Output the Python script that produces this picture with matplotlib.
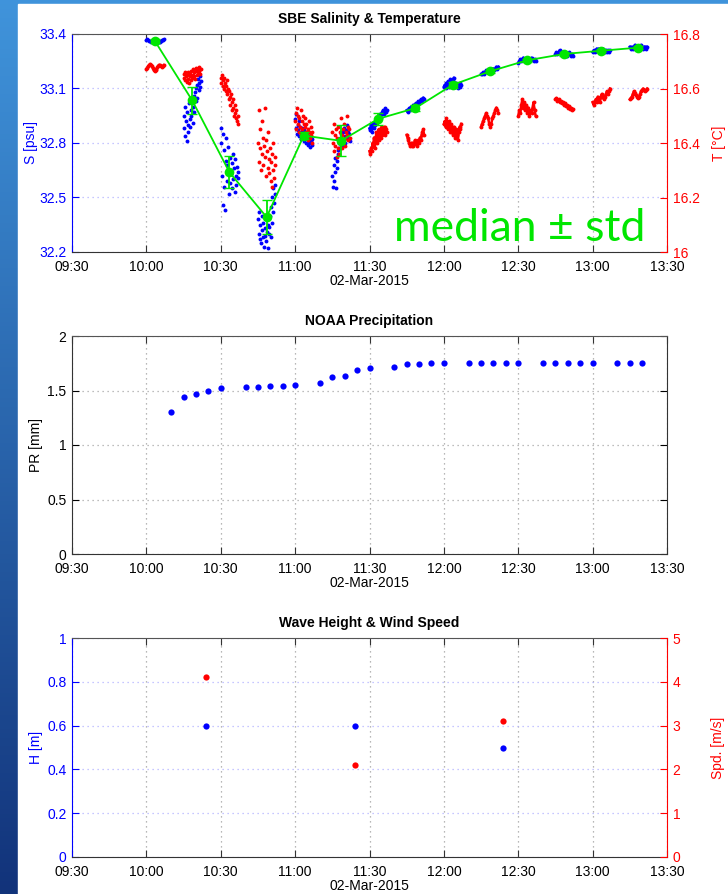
import datetime as dt
import numpy as np
import matplotlib
matplotlib.use('Agg')
import matplotlib.pyplot as plt
import matplotlib.dates as mdates
from matplotlib.patches import Rectangle

plt.rcParams['font.family'] = ['Liberation Sans', 'DejaVu Sans']

DAY = dt.datetime(2015, 3, 2)


def hm(s):
    h, m = s.split(':')
    return DAY + dt.timedelta(hours=int(h), minutes=float(m))


# ---- SBE salinity / temperature: one 7-minute burst every 15 minutes ----
burst_starts = ['10:00', '10:15', '10:30', '10:45', '11:00', '11:15', '11:30',
                '11:45', '12:00', '12:15', '12:30', '12:45', '13:00', '13:15']
burst_minutes = 7

sal_bursts = [
    [33.365, 33.37, 33.368, 33.362, 33.36, 33.358, 33.362, 33.366, 33.37, 33.372,
     33.368, 33.364, 33.36, 33.356, 33.355, 33.358, 33.362, 33.365, 33.368, 33.37],
    [32.95, 32.88, 33.0, 32.84, 32.92, 32.97, 32.81, 32.9, 32.86, 33.02, 32.93, 32.89,
     32.98, 32.95, 33.04, 32.91, 33.0, 33.06, 32.97, 33.08, 33.03, 33.1, 33.12, 33.05,
     33.15, 33.09, 33.13, 33.17, 33.11, 33.14],
    [32.88, 32.8, 32.62, 32.46, 32.85, 32.56, 32.76, 32.43, 32.7, 32.83, 32.59, 32.68,
     32.78, 32.52, 32.65, 32.72, 32.58, 32.63, 32.69, 32.55, 32.74, 32.6, 32.66, 32.53,
     32.71, 32.62, 32.57, 32.67, 32.61, 32.64],
    [32.38, 32.3, 32.42, 32.27, 32.35, 32.25, 32.4, 32.32, 32.28, 32.36, 32.23, 32.33,
     32.29, 32.38, 32.26, 32.31, 32.35, 32.22, 32.3, 32.34, 32.4, 32.28, 32.45, 32.36,
     32.5, 32.42, 32.55, 32.47, 32.57, 32.52],
    [32.93, 32.88, 32.96, 32.85, 32.9, 32.87, 32.92, 32.84, 32.89, 32.86, 32.82, 32.88,
     32.85, 32.83, 32.87, 32.81, 32.84, 32.86, 32.8, 32.83, 32.85, 32.79, 32.82, 32.84,
     32.8, 32.78, 32.83, 32.81, 32.79, 32.82],
    [32.62, 32.56, 32.68, 32.59, 32.72, 32.64, 32.55, 32.7, 32.66, 32.76, 32.74, 32.8,
     32.77, 32.83, 32.78, 32.85, 32.81, 32.79, 32.86, 32.82, 32.88, 32.84, 32.8, 32.87,
     32.9, 32.83, 32.86, 32.82, 32.85, 32.81],
    [32.88, 32.87, 32.9, 32.86, 32.89, 32.91, 32.88, 32.9, 32.92, 32.93, 32.91, 32.94,
     32.93, 32.95, 32.96, 32.94, 32.96, 32.97, 32.98, 32.96, 32.97, 32.99, 32.97, 32.98],
    [32.98, 32.97, 32.98, 32.99, 32.98, 33.0, 32.99, 33.0, 33.01, 33.0, 33.01, 33.02,
     33.01, 33.02, 33.03, 33.02, 33.03, 33.04, 33.03, 33.04, 33.05, 33.04],
    [33.11, 33.12, 33.1, 33.13, 33.12, 33.14, 33.11, 33.13, 33.15, 33.12, 33.14, 33.13,
     33.16, 33.12, 33.11, 33.13, 33.12, 33.1, 33.12, 33.11, 33.13, 33.12],
    [33.18, 33.18, 33.19, 33.18, 33.19, 33.2, 33.19, 33.2, 33.19, 33.2, 33.21, 33.2,
     33.21, 33.2, 33.21, 33.22, 33.21, 33.22],
    [33.24, 33.25, 33.26, 33.25, 33.26, 33.27, 33.26, 33.25, 33.26, 33.27, 33.26, 33.25,
     33.26, 33.27, 33.26, 33.25, 33.26, 33.25],
    [33.29, 33.3, 33.29, 33.3, 33.31, 33.3, 33.29, 33.3, 33.29, 33.28, 33.29, 33.28,
     33.29, 33.3, 33.29, 33.28, 33.29, 33.28],
    [33.3, 33.31, 33.3, 33.31, 33.32, 33.31, 33.32, 33.31, 33.3, 33.31, 33.32, 33.31,
     33.3, 33.31, 33.3, 33.31, 33.3, 33.31],
    [33.33, 33.32, 33.33, 33.32, 33.33, 33.34, 33.33, 33.32, 33.33, 33.32, 33.33, 33.34,
     33.33, 33.32, 33.33, 33.33, 33.32, 33.33],
]

temp_bursts = [
    [16.672, 16.676, 16.681, 16.686, 16.69, 16.688, 16.682, 16.675, 16.668, 16.665,
     16.667, 16.672, 16.678, 16.684, 16.687, 16.685, 16.681, 16.679, 16.683, 16.686],
    [16.655, 16.64, 16.63, 16.66, 16.645, 16.625, 16.65, 16.635, 16.66, 16.62, 16.645,
     16.655, 16.63, 16.665, 16.64, 16.65, 16.67, 16.645, 16.66, 16.635, 16.665, 16.675,
     16.65, 16.67, 16.66, 16.678, 16.665, 16.672, 16.655, 16.67],
    [16.64, 16.62, 16.65, 16.61, 16.63, 16.6, 16.64, 16.62, 16.59, 16.61, 16.63, 16.58,
     16.6, 16.56, 16.59, 16.57, 16.54, 16.58, 16.55, 16.52, 16.56, 16.53, 16.5, 16.54,
     16.51, 16.49, 16.52, 16.48, 16.5, 16.47],
    [16.4, 16.52, 16.33, 16.45, 16.38, 16.3, 16.48, 16.36, 16.42, 16.32, 16.39, 16.53,
     16.35, 16.28, 16.41, 16.37, 16.31, 16.44, 16.34, 16.29, 16.38, 16.26, 16.33, 16.24,
     16.36, 16.3, 16.4, 16.27, 16.35, 16.32],
    [16.48, 16.51, 16.45, 16.53, 16.47, 16.5, 16.44, 16.49, 16.46, 16.52, 16.43, 16.48,
     16.45, 16.5, 16.47, 16.42, 16.46, 16.49, 16.44, 16.47, 16.43, 16.45, 16.41, 16.48,
     16.44, 16.42, 16.46, 16.43, 16.4, 16.44],
    [16.44, 16.4, 16.47, 16.37, 16.43, 16.39, 16.45, 16.35, 16.42, 16.38, 16.46, 16.41,
     16.36, 16.44, 16.4, 16.49, 16.43, 16.38, 16.45, 16.41, 16.47, 16.42, 16.39, 16.44,
     16.5, 16.43, 16.46, 16.41, 16.45, 16.42],
    [16.37, 16.36, 16.38, 16.37, 16.4, 16.39, 16.42, 16.38, 16.41, 16.44, 16.4, 16.43,
     16.45, 16.41, 16.44, 16.42, 16.46, 16.43, 16.45, 16.44, 16.46, 16.43, 16.45, 16.44],
    [16.43, 16.42, 16.41, 16.4, 16.39, 16.4, 16.39, 16.4, 16.39, 16.4, 16.41, 16.4,
     16.39, 16.4, 16.41, 16.4, 16.42, 16.41, 16.43, 16.44, 16.45, 16.43],
    [16.47, 16.48, 16.46, 16.49, 16.47, 16.45, 16.48, 16.46, 16.44, 16.47, 16.45, 16.43,
     16.46, 16.44, 16.42, 16.45, 16.43, 16.41, 16.44, 16.46, 16.45, 16.47],
    [16.46, 16.47, 16.48, 16.49, 16.5, 16.51, 16.5, 16.49, 16.47, 16.46, 16.47, 16.49,
     16.5, 16.51, 16.52, 16.53, 16.52, 16.51],
    [16.5, 16.52, 16.51, 16.54, 16.56, 16.53, 16.55, 16.52, 16.54, 16.51, 16.53, 16.5,
     16.52, 16.51, 16.53, 16.55, 16.52, 16.5],
    [16.56, 16.565, 16.555, 16.56, 16.55, 16.555, 16.545, 16.55, 16.54, 16.545, 16.535,
     16.54, 16.53, 16.535, 16.525, 16.53, 16.52, 16.525],
    [16.55, 16.54, 16.55, 16.56, 16.55, 16.57, 16.56, 16.55, 16.57, 16.58, 16.57, 16.56,
     16.57, 16.58, 16.59, 16.58, 16.59, 16.6],
    [16.56, 16.565, 16.57, 16.58, 16.59, 16.585, 16.575, 16.57, 16.565, 16.57, 16.58,
     16.59, 16.595, 16.6, 16.595, 16.59, 16.595, 16.6],
]

median_times = ['10:03.5', '10:18.5', '10:33.5', '10:48.5', '11:03.5', '11:18.5', '11:33.5',
                '11:48.5', '12:03.5', '12:18.5', '12:33.5', '12:48.5', '13:03.5', '13:18.5']
sal_median = [33.36, 33.034, 32.639, 32.392, 32.841, 32.812, 32.933,
              32.992, 33.12, 33.194, 33.255, 33.29, 33.308, 33.325]
sal_std = [0.01, 0.077, 0.088, 0.093, 0.02, 0.085, 0.034,
           0.018, 0.015, 0.01, 0.01, 0.01, 0.008, 0.008]

# ---- NOAA precipitation ----
pr_times = ['10:10', '10:15', '10:20', '10:25', '10:30', '10:40', '10:45', '10:50', '10:55',
            '11:00', '11:10', '11:15', '11:20', '11:25', '11:30', '11:40', '11:45', '11:50',
            '11:55', '12:00', '12:10', '12:15', '12:20', '12:25', '12:30', '12:40', '12:45',
            '12:50', '12:55', '13:00', '13:10', '13:15', '13:20']
pr_values = [1.30, 1.44, 1.47, 1.50, 1.52, 1.53, 1.53, 1.54, 1.54,
             1.55, 1.57, 1.62, 1.63, 1.69, 1.71, 1.72, 1.74, 1.74,
             1.75, 1.75, 1.75, 1.75, 1.75, 1.75, 1.75, 1.75, 1.75,
             1.75, 1.75, 1.75, 1.75, 1.75, 1.75]

# ---- wave height & wind speed ----
wave_times = ['10:24', '11:24', '12:24']
wave_height = [0.6, 0.6, 0.5]
wind_speed = [4.1, 2.1, 3.1]

sal_ticks = [32.2, 32.5, 32.8, 33.1, 33.4]
temp_ticks = [16, 16.2, 16.4, 16.6, 16.8]
pr_ticks = [0, 0.5, 1, 1.5, 2]
h_ticks = [0, 0.2, 0.4, 0.6, 0.8, 1]
spd_ticks = [0, 1, 2, 3, 4, 5]

BLUE = '#0000ff'
RED = '#ff0000'
GREEN = '#00e600'
FS = 10


def fmt(v):
    return ('%g' % v)


def style_x(ax, hgrid='#a8a8a8'):
    ax.set_xlim(hm('09:30'), hm('13:30'))
    ax.xaxis.set_major_locator(mdates.MinuteLocator(byminute=[0, 30]))
    ax.xaxis.set_major_formatter(mdates.DateFormatter('%H:%M'))
    ax.tick_params(axis='x', direction='in', length=5, top=True, labelsize=FS,
                   color='#333333', pad=6)
    ax.xaxis.grid(True, ls=(0, (1, 3)), color='#a0a0a0', lw=0.9)
    ax.yaxis.grid(True, ls=(0, (1, 3)), color=hgrid, lw=0.9)
    ax.set_xlabel('02-Mar-2015', fontsize=FS, labelpad=0)
    ax.spines['top'].set_color('#555555')
    ax.spines['bottom'].set_color('#333333')


fig = plt.figure(figsize=(7.28, 8.94), dpi=100)

# slide background: blue strip on the left and top
bg = fig.add_axes([0, 0, 1, 1], zorder=-10)
grad = np.linspace(0, 1, 200)[:, None]
cols = np.array([[0.25, 0.58, 0.86]]) * (1 - grad) + np.array([[0.07, 0.2, 0.48]]) * grad
bg.imshow(cols[:, None, :], aspect='auto', extent=[0, 1, 0, 1])
bg.add_patch(Rectangle((18 / 728, 0), 1, 1 - 4 / 894, color='white'))
bg.set_xlim(0, 1)
bg.set_ylim(0, 1)
bg.axis('off')

L, W = 72 / 728, 595 / 728

# ---------------- panel 1 ----------------
ax1 = fig.add_axes([L, 1 - 252 / 894, W, 218 / 894])
ax2 = ax1.twinx()
ax3 = ax1.twinx()
for i, (start, s, t) in enumerate(zip(burst_starts, sal_bursts, temp_bursts)):
    ts = [hm(start) + dt.timedelta(minutes=burst_minutes * k / (len(s) - 1)) for k in range(len(s))]
    tt = [hm(start) + dt.timedelta(minutes=burst_minutes * k / (len(t) - 1)) for k in range(len(t))]
    # the later, calmer bursts read as continuous traces
    ls = '-' if (i == 0 or i >= 6) else 'none'
    ax1.plot(ts, s, marker='o', ls=ls, lw=1.8, color=BLUE, ms=2.8, mec='none')
    ax2.plot(tt, t, marker='o', ls=ls, lw=1.8, color=RED, ms=2.8, mec='none')
ax3.errorbar([hm(x) for x in median_times], sal_median, yerr=sal_std, color=GREEN,
             lw=1.3, marker='o', ms=7, mec='none', capsize=3.5, elinewidth=1.3)

ax1.set_ylim(32.2, 33.4)
ax3.set_ylim(32.2, 33.4)
ax2.set_ylim(16, 16.8)
ax3.axis('off')
ax1.set_yticks(sal_ticks, [fmt(v) for v in sal_ticks])
ax2.set_yticks(temp_ticks, [fmt(v) for v in temp_ticks])
style_x(ax1, hgrid='#b4b4ff')
ax1.tick_params(axis='y', direction='in', length=5, colors=BLUE, labelsize=FS, pad=4)
ax2.tick_params(axis='y', direction='in', length=5, colors=RED, labelsize=FS, pad=4)
ax1.spines['left'].set_color(BLUE)
ax2.spines['right'].set_color(RED)
for sp in ['left', 'top', 'bottom']:
    ax2.spines[sp].set_visible(False)
ax1.spines['right'].set_visible(False)
ax1.set_ylabel('S [psu]', color=BLUE, fontsize=FS, labelpad=1)
ax2.set_ylabel('T [\u00b0C]', color=RED, fontsize=FS, labelpad=9)
ax1.set_title('SBE Salinity & Temperature', fontsize=FS, fontweight='bold', pad=8)
ax3.text(0.963, 0.05, 'median \u00b1 std', transform=ax1.transAxes, ha='right',
         va='baseline', color=GREEN, fontsize=32, family=['Lato', 'DejaVu Sans'])

# ---------------- panel 2 ----------------
ax4 = fig.add_axes([L, 1 - 554 / 894, W, 218 / 894])
ax4.plot([hm(x) for x in pr_times], pr_values, 'o', color=BLUE, ms=4.5, mec='none')
ax4.set_ylim(0, 2)
ax4.set_yticks(pr_ticks, [fmt(v) for v in pr_ticks])
style_x(ax4, hgrid='#a8a8a8')
ax4.tick_params(axis='y', direction='in', length=5, right=True, labelsize=FS, pad=4)
ax4.spines['left'].set_color('#333333')
ax4.spines['right'].set_color('#333333')
ax4.set_ylabel('PR [mm]', fontsize=FS, labelpad=3)
ax4.set_title('NOAA Precipitation', fontsize=FS, fontweight='bold', pad=8)

# ---------------- panel 3 ----------------
ax5 = fig.add_axes([L, 1 - 857 / 894, W, 219 / 894])
ax6 = ax5.twinx()
ax5.plot([hm(x) for x in wave_times], wave_height, 'o', color=BLUE, ms=4.5, mec='none')
ax6.plot([hm(x) for x in wave_times], wind_speed, 'o', color=RED, ms=4.5, mec='none')
ax5.set_ylim(0, 1)
ax6.set_ylim(0, 5)
ax5.set_yticks(h_ticks, [fmt(v) for v in h_ticks])
ax6.set_yticks(spd_ticks, [fmt(v) for v in spd_ticks])
style_x(ax5, hgrid='#b4b4ff')
ax5.tick_params(axis='y', direction='in', length=5, colors=BLUE, labelsize=FS, pad=4)
ax6.tick_params(axis='y', direction='in', length=5, colors=RED, labelsize=FS, pad=4)
ax5.spines['left'].set_color(BLUE)
ax6.spines['right'].set_color(RED)
for sp in ['left', 'top', 'bottom']:
    ax6.spines[sp].set_visible(False)
ax5.spines['right'].set_visible(False)
ax5.set_ylabel('H [m]', color=BLUE, fontsize=FS, labelpad=3)
ax6.set_ylabel('Spd. [m/s]', color=RED, fontsize=FS, labelpad=22)
ax5.set_title('Wave Height & Wind Speed', fontsize=FS, fontweight='bold', pad=8)

fig.savefig('out.png', dpi=100)
